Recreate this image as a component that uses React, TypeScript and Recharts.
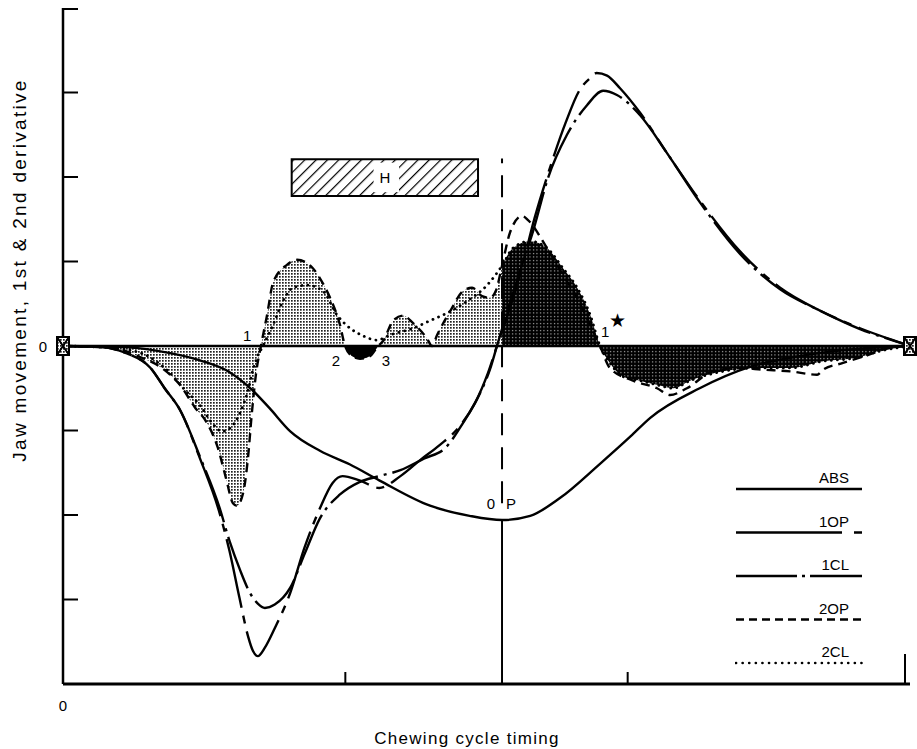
import React from 'react';
import {
  ComposedChart,
  Line,
  Area,
  XAxis,
  YAxis,
  ReferenceLine,
  ReferenceArea,
  ReferenceDot,
  Legend,
} from 'recharts';

type Pt = { x: number; y: number };
const toPts = (rows: number[][]): Pt[] => rows.map(([x, y]) => ({ x, y }));

// jaw movement (ABS)
const absMovement = toPts([
  [0, 0], [20, -0.01], [34, -0.06], [48.5, -0.17], [59, -0.31], [67, -0.52], [73, -0.73],
  [80.5, -1.01], [91, -1.24], [101.5, -1.4], [112, -1.59], [130, -1.89], [144, -2.01],
  [155.5, -2.06], [165.5, -2.01], [176, -1.8], [190, -1.4], [201, -1.07], [208, -0.85],
  [225.5, -0.5], [243, -0.25], [261, -0.12], [279, -0.04], [300, 0],
]);

// 1st derivative, opening
const firstOpen = toPts([
  [0, 0], [13, -0.01], [22, -0.08], [31, -0.26], [36, -0.5], [41.5, -0.76], [48.5, -1.33],
  [55.5, -1.98], [59, -2.43], [62.5, -2.98], [65.5, -3.43], [67.3, -3.61], [69, -3.67],
  [71.5, -3.57], [75, -3.34], [80.5, -2.92], [85.5, -2.39], [91, -1.92], [95.5, -1.62],
  [99, -1.54], [105, -1.59], [112, -1.68], [119.5, -1.54], [126.5, -1.35], [133.5, -1.17],
  [140.5, -0.95], [146, -0.67], [150.5, -0.32], [153.7, 0], [158.3, 0.45], [162, 0.86],
  [167, 1.51], [172.5, 2.11], [178, 2.64], [183, 3.03], [186.7, 3.17], [189, 3.23],
  [192.7, 3.2], [197.3, 3.05], [204.4, 2.76], [214, 2.28], [225.6, 1.72], [239.8, 1.12],
  [254, 0.69], [268, 0.42], [282.3, 0.21], [296.5, 0.04], [300, 0],
]);

// 1st derivative, closing
const firstClose = toPts([
  [0, 0], [13, -0.01], [22, -0.08], [31, -0.26], [36, -0.5], [41.5, -0.76], [48.5, -1.31],
  [55.5, -1.92], [59, -2.31], [62.7, -2.65], [66.2, -2.92], [69, -3.05], [71.5, -3.1],
  [75, -3.06], [80.5, -2.86], [85.7, -2.45], [91, -2.04], [98, -1.76], [105, -1.61],
  [112, -1.54], [119.5, -1.47], [128, -1.33], [135.3, -1.21], [141.7, -0.91], [147.7, -0.56],
  [151.2, -0.28], [153.7, 0], [158.3, 0.51], [162, 0.9], [166.5, 1.36], [171.8, 1.99],
  [178.5, 2.5], [185.6, 2.85], [191.3, 3.02], [196.2, 2.97], [204.4, 2.73], [214, 2.28],
  [225.6, 1.7], [239.8, 1.09], [254, 0.67], [268, 0.42], [282.3, 0.2], [296.5, 0.04], [300, 0],
]);

// 2nd derivative, opening
const secondOpen = toPts([
  [0, 0], [16.6, -0.02], [27.3, -0.13], [35.4, -0.27], [41.4, -0.46], [46.8, -0.73],
  [51, -0.91], [54.9, -1.21], [57.7, -1.56], [60.2, -1.86], [61.6, -1.89], [63.8, -1.74],
  [65.5, -1.33], [66.9, -0.79], [68.4, -0.32], [70.1, 0], [72.3, 0.37], [74.4, 0.75],
  [79.3, 0.96], [82.9, 1.02], [88.5, 0.92], [91, 0.8], [94.6, 0.57], [98.1, 0.25],
  [99.9, 0], [102.4, -0.12], [105.2, -0.15], [108.7, -0.12], [111.6, 0], [113.4, 0.06],
  [116.9, 0.3], [120.4, 0.36], [124, 0.27], [128.9, 0.09], [130.7, 0], [132.5, 0.13],
  [137.1, 0.41], [141.7, 0.65], [144.9, 0.69], [148.4, 0.59], [151.2, 0.57], [153.4, 0.66],
  [155.5, 0.95], [158.3, 1.34], [162.6, 1.54], [164.7, 1.49], [171.4, 1.16], [177.1, 0.84],
  [182.1, 0.57], [186.7, 0.25], [190.2, 0], [193.7, -0.26], [201.9, -0.41], [210.4, -0.5],
  [215, -0.58], [221, -0.5], [230.2, -0.3], [239.8, -0.26], [247.9, -0.28], [257.5, -0.3],
  [267.1, -0.34], [269.2, -0.28], [276.3, -0.2], [284.8, -0.11], [292.9, -0.02], [300, 0],
]);

// 2nd derivative, closing
const secondClose = toPts([
  [0, 0], [16.6, -0.02], [27.3, -0.08], [37.9, -0.32], [43.2, -0.52], [48.5, -0.7],
  [52.8, -0.91], [56.3, -1.01], [59.9, -0.95], [62.7, -0.79], [65.5, -0.53], [67.3, -0.28],
  [68.7, -0.14], [70.8, 0], [74.4, 0.25], [77.9, 0.53], [81.5, 0.69], [86.4, 0.72],
  [92.1, 0.65], [97, 0.37], [100.6, 0.24], [106.3, 0.12], [111.2, 0.07], [115.8, 0.13],
  [124, 0.21], [130, 0.3], [136, 0.39], [143.1, 0.53], [150.2, 0.72], [155.5, 0.95],
  [159.4, 1.16], [165.4, 1.24], [171.4, 1.16], [177.1, 0.92], [182.1, 0.69], [186.7, 0.37],
  [190.2, 0], [193.7, -0.2], [198.3, -0.36], [204.4, -0.41], [210.4, -0.46], [216.1, -0.5],
  [222.1, -0.41], [233.8, -0.3], [245.8, -0.26], [257.5, -0.26], [269.2, -0.18],
  [281.2, -0.14], [289.4, -0.06], [300, 0],
]);

const openingPoint = 155.5; // "0 P" marker on the time axis
const xTicks = [0, 100, 200, 300];
const yTicks = [-4, -3, -2, -1, 0, 1, 2, 3, 4];

// shaded parts of the 2nd derivatives
const lightShade = secondOpen.filter((p) => p.x <= openingPoint);
const blackDip = secondOpen.filter((p) => p.x >= 99.9 && p.x <= 111.6);
const darkShade = secondClose.filter((p) => p.x >= openingPoint);

const notes = [
  { x: 65.2, y: 0.12, text: '1' },
  { x: 96.7, y: -0.17, text: '2' },
  { x: 114.4, y: -0.17, text: '3' },
  { x: 192, y: 0.17, text: '1' },
  { x: 196.5, y: 0.3, text: '\u2605' },
  { x: 151.6, y: -1.86, text: '0' },
  { x: 158.7, y: -1.86, text: 'P' },
];

const series = [
  { key: 'ABS', data: absMovement, dash: undefined as string | undefined, cap: 'butt' },
  { key: '1OP', data: firstOpen, dash: '70 8 8 8', cap: 'butt' },
  { key: '1CL', data: firstClose, dash: '55 6 3 6', cap: 'butt' },
  { key: '2OP', data: secondOpen, dash: '9 6', cap: 'butt' },
  { key: '2CL', data: secondClose, dash: '0.1 6', cap: 'round' },
];
const legendDash: Record<string, string | undefined> = {
  ABS: undefined,
  '1OP': '106 12 8',
  '1CL': '61 5 3 5 60',
  '2OP': '8 5',
  '2CL': '0.1 6.5',
};

const FONT = '"Liberation Sans", Arial, sans-serif';

const EndBox = (props: any) => {
  const { cx, cy, index } = props;
  if (index !== 0 && index !== absMovement.length - 1) return <g key={`d${index}`} />;
  return (
    <g key={`d${index}`}>
      <rect x={cx - 6} y={cy - 9} width={12} height={18} fill="url(#stipple)" stroke="#000" strokeWidth={2} />
      <path
        d={`M${cx - 6},${cy - 9}L${cx + 6},${cy + 9}M${cx + 6},${cy - 9}L${cx - 6},${cy + 9}`}
        stroke="#000"
        strokeWidth={2}
      />
    </g>
  );
};

const YTick = (props: any) => {
  const { x, y, payload } = props;
  const v = payload.value;
  if (v === 0)
    return (
      <text x={x - 20} y={y} textAnchor="middle" dominantBaseline="central" fontFamily={FONT} fontSize={15}>
        0
      </text>
    );
  if (v === -4) return <g />;
  return <line x1={x} x2={x + 15} y1={y} y2={y} stroke="#000" strokeWidth={2} />;
};

const XTick = (props: any) => {
  const { x, y, payload } = props;
  const v = payload.value;
  if (v === 0)
    return (
      <text x={x} y={y + 21} textAnchor="middle" dominantBaseline="central" fontFamily={FONT} fontSize={15}>
        0
      </text>
    );
  const len = v === 300 ? 30 : 12;
  return <line x1={x} x2={x} y1={y} y2={y - len} stroke="#000" strokeWidth={2} />;
};

const YTitle = () => (
  <text
    x={19}
    y={270}
    transform="rotate(-90 19 270)"
    textAnchor="middle"
    dominantBaseline="central"
    fontFamily={FONT}
    fontSize={19}
    letterSpacing={2.3}
  >
    Jaw movement, 1st &amp; 2nd derivative
  </text>
);

const XTitle = () => (
  <text x={467} y={738} textAnchor="middle" dominantBaseline="central" fontFamily={FONT} fontSize={17} letterSpacing={1.3}>
    Chewing cycle timing
  </text>
);

const NoteShape = (text: string) => (p: any) => (
  <text
    x={p.cx}
    y={p.cy}
    textAnchor="middle"
    dominantBaseline="central"
    fontFamily={FONT}
    fontSize={text === '\u2605' ? 19 : 15}
  >
    {text}
  </text>
);

const LegendBox = () => (
  <svg width={130} height={210}>
    {series.map((s, i) => {
      const ly = 24 + i * 43.5;
      return (
        <g key={s.key}>
          <text x={114} y={ly - 6} textAnchor="end" fontFamily={FONT} fontSize={15}>
            {s.key}
          </text>
          <line
            x1={1}
            x2={127}
            y1={ly}
            y2={ly}
            stroke="#000"
            strokeWidth={s.key === '2CL' ? 2.6 : 2.4}
            strokeDasharray={legendDash[s.key]}
            strokeLinecap={s.cap as any}
          />
        </g>
      );
    })}
  </svg>
);

export default function App() {
  return (
    <div style={{ position: 'absolute', left: 0, top: 0, background: '#fff' }}>
      <ComposedChart width={917} height={749} margin={{ top: 8, right: 7, bottom: 64, left: 62 }}>
        <defs>
          <pattern id="stipple" width="3" height="3" patternUnits="userSpaceOnUse">
            <rect width="3" height="3" fill="#fff" />
            <rect width="1.7" height="1.7" fill="#222" />
          </pattern>
          <pattern id="dense" width="3.5" height="3.5" patternUnits="userSpaceOnUse">
            <rect width="3.5" height="3.5" fill="#000" />
            <rect x="1" y="1" width="1" height="1" fill="#fff" />
          </pattern>
          <pattern id="hatch" width="8" height="8" patternUnits="userSpaceOnUse" patternTransform="rotate(45)">
            <line x1="0" y1="0" x2="0" y2="8" stroke="#000" strokeWidth="2.4" />
          </pattern>
        </defs>
        <XAxis
          type="number"
          dataKey="x"
          domain={[0, 300]}
          ticks={xTicks}
          height={1}
          tickSize={0}
          tickMargin={0}
          tickLine={false}
          tick={<XTick />}
          axisLine={{ stroke: '#000', strokeWidth: 3 }}
          label={<XTitle />}
        />
        <YAxis
          type="number"
          dataKey="y"
          domain={[-4, 4]}
          ticks={yTicks}
          width={1}
          tickSize={0}
          tickMargin={0}
          tickLine={false}
          tick={<YTick />}
          axisLine={{ stroke: '#000', strokeWidth: 2.5 }}
          label={<YTitle />}
        />

        <Area data={lightShade} dataKey="y" type="monotone" baseValue={0} fill="url(#stipple)" fillOpacity={1}
          stroke="none" isAnimationActive={false} legendType="none" />
        <Area data={blackDip} dataKey="y" type="monotone" baseValue={0} fill="#000" fillOpacity={1}
          stroke="none" isAnimationActive={false} legendType="none" />
        <Area data={darkShade} dataKey="y" type="monotone" baseValue={0} fill="url(#dense)" fillOpacity={1}
          stroke="none" isAnimationActive={false} legendType="none" />

        <ReferenceLine y={0} stroke="#000" strokeWidth={2.5} />
        <ReferenceLine
          segment={[{ x: openingPoint, y: -4 }, { x: openingPoint, y: -2.06 }]}
          stroke="#000"
          strokeWidth={2}
        />
        <ReferenceLine
          segment={[{ x: openingPoint, y: -1.86 }, { x: openingPoint, y: 2.22 }]}
          stroke="#000"
          strokeWidth={2}
          strokeDasharray="22 12"
        />

        <ReferenceArea x1={81} x2={147} y1={1.775} y2={2.21} fill="url(#hatch)" fillOpacity={1} stroke="#000" strokeWidth={2} />
        <ReferenceArea x1={110} x2={119} y1={1.82} y2={2.17} fill="#fff" fillOpacity={1} stroke="none" />
        <ReferenceDot x={114} y={1.99} r={1} shape={NoteShape('H')} />

        {series.map((s) => (
          <Line
            key={s.key}
            name={s.key}
            data={s.data}
            dataKey="y"
            type="monotone"
            stroke="#000"
            strokeWidth={s.key === '2CL' ? 2.8 : 2.4}
            strokeDasharray={s.dash}
            strokeLinecap={s.cap as any}
            dot={s.key === 'ABS' ? EndBox : false}
            activeDot={false}
            isAnimationActive={false}
          />
        ))}

        {notes.map((n, i) => (
          <ReferenceDot key={i} x={n.x} y={n.y} r={1} shape={NoteShape(n.text)} />
        ))}

        <Legend
          layout="horizontal"
          verticalAlign="middle"
          align="center"
          content={<LegendBox />}
          wrapperStyle={{ position: 'absolute', left: 735, top: 465, width: 130, height: 210 }}
        />
      </ComposedChart>
    </div>
  );
}
